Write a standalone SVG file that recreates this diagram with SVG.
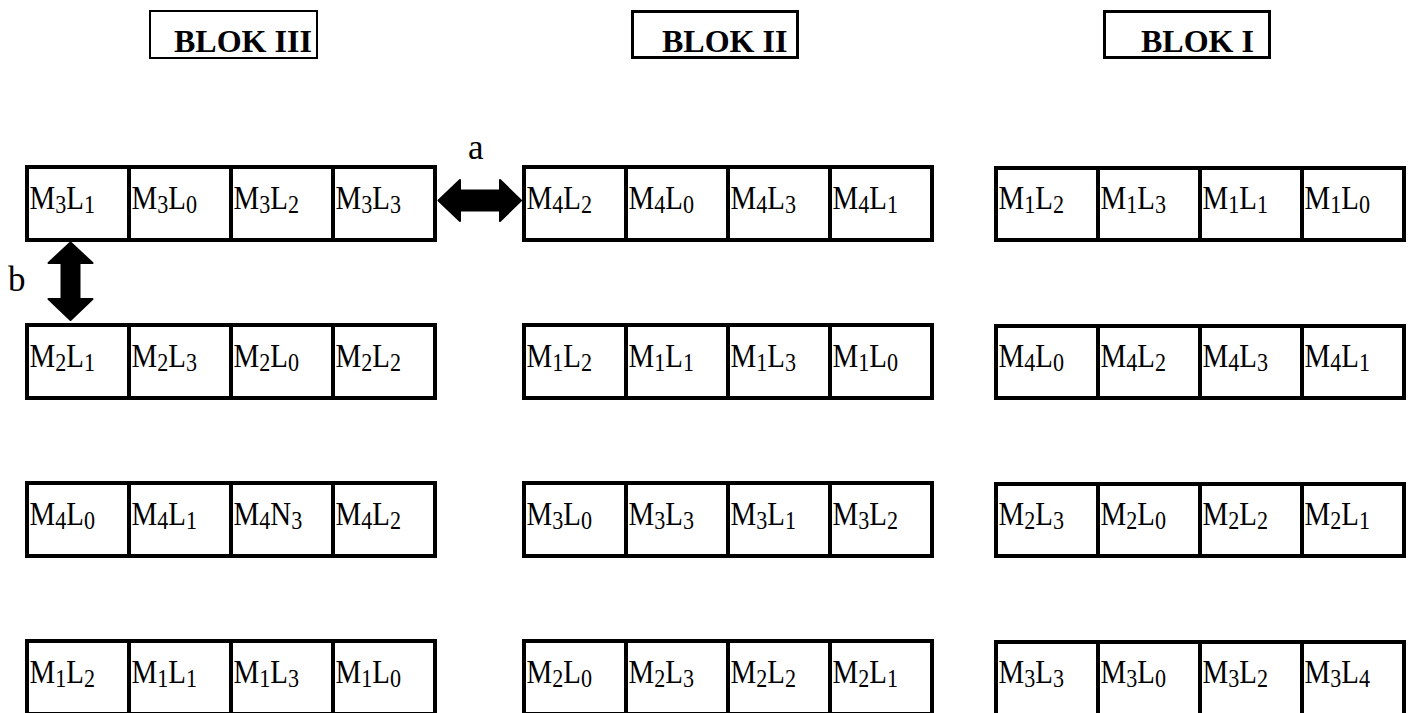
<svg xmlns="http://www.w3.org/2000/svg" width="1415" height="713" viewBox="0 0 1415 713">
  <style>
    .hdr rect { fill: #fff; stroke: #000; }
    .hdr text { font-family: "Liberation Serif", "Times New Roman", serif; font-weight: bold; font-size: 32px; fill: #000; }
    .cell rect { fill: #fff; stroke: #000; stroke-width: 4; }
    .lbl { font-family: "Liberation Serif", "Times New Roman", serif; font-size: 34px; fill: #000; }
    .lbl .s { font-size: 26px; }
    .tag { font-family: "Liberation Serif", "Times New Roman", serif; font-size: 35px; fill: #000; }
    .arrow { fill: #000; stroke: #000; stroke-width: 2; stroke-linejoin: round; }
  </style>

  <!-- block headers -->
  <g id="hdr-blok-3" class="hdr">
    <rect x="150" y="11" width="167" height="47" stroke-width="2"/>
    <text x="174" y="52">BLOK III</text>
  </g>
  <g id="hdr-blok-2" class="hdr">
    <rect x="632.5" y="11.5" width="165" height="46" stroke-width="3"/>
    <text x="662" y="52">BLOK II</text>
  </g>
  <g id="hdr-blok-1" class="hdr">
    <rect x="1104.5" y="11.5" width="165" height="46" stroke-width="3"/>
    <text x="1141" y="52">BLOK I</text>
  </g>

  <!-- BLOK III -->
  <g id="blok3">
    <g id="b3-r1-c1" class="cell"><rect x="27" y="167" width="102" height="73"/><text class="lbl" transform="translate(29.5 209) scale(0.85 1)">M<tspan class="s" dy="4">3</tspan><tspan dy="-4">L</tspan><tspan class="s" dy="4">1</tspan></text></g>
    <g id="b3-r1-c2" class="cell"><rect x="129" y="167" width="102" height="73"/><text class="lbl" transform="translate(131.5 209) scale(0.85 1)">M<tspan class="s" dy="4">3</tspan><tspan dy="-4">L</tspan><tspan class="s" dy="4">0</tspan></text></g>
    <g id="b3-r1-c3" class="cell"><rect x="231" y="167" width="102" height="73"/><text class="lbl" transform="translate(233.5 209) scale(0.85 1)">M<tspan class="s" dy="4">3</tspan><tspan dy="-4">L</tspan><tspan class="s" dy="4">2</tspan></text></g>
    <g id="b3-r1-c4" class="cell"><rect x="333" y="167" width="102" height="73"/><text class="lbl" transform="translate(335.5 209) scale(0.85 1)">M<tspan class="s" dy="4">3</tspan><tspan dy="-4">L</tspan><tspan class="s" dy="4">3</tspan></text></g>

    <g id="b3-r2-c1" class="cell"><rect x="27" y="325" width="102" height="73"/><text class="lbl" transform="translate(29.5 367) scale(0.85 1)">M<tspan class="s" dy="4">2</tspan><tspan dy="-4">L</tspan><tspan class="s" dy="4">1</tspan></text></g>
    <g id="b3-r2-c2" class="cell"><rect x="129" y="325" width="102" height="73"/><text class="lbl" transform="translate(131.5 367) scale(0.85 1)">M<tspan class="s" dy="4">2</tspan><tspan dy="-4">L</tspan><tspan class="s" dy="4">3</tspan></text></g>
    <g id="b3-r2-c3" class="cell"><rect x="231" y="325" width="102" height="73"/><text class="lbl" transform="translate(233.5 367) scale(0.85 1)">M<tspan class="s" dy="4">2</tspan><tspan dy="-4">L</tspan><tspan class="s" dy="4">0</tspan></text></g>
    <g id="b3-r2-c4" class="cell"><rect x="333" y="325" width="102" height="73"/><text class="lbl" transform="translate(335.5 367) scale(0.85 1)">M<tspan class="s" dy="4">2</tspan><tspan dy="-4">L</tspan><tspan class="s" dy="4">2</tspan></text></g>

    <g id="b3-r3-c1" class="cell"><rect x="27" y="483" width="102" height="73"/><text class="lbl" transform="translate(29.5 525) scale(0.85 1)">M<tspan class="s" dy="4">4</tspan><tspan dy="-4">L</tspan><tspan class="s" dy="4">0</tspan></text></g>
    <g id="b3-r3-c2" class="cell"><rect x="129" y="483" width="102" height="73"/><text class="lbl" transform="translate(131.5 525) scale(0.85 1)">M<tspan class="s" dy="4">4</tspan><tspan dy="-4">L</tspan><tspan class="s" dy="4">1</tspan></text></g>
    <g id="b3-r3-c3" class="cell"><rect x="231" y="483" width="102" height="73"/><text class="lbl" transform="translate(233.5 525) scale(0.85 1)">M<tspan class="s" dy="4">4</tspan><tspan dy="-4">N</tspan><tspan class="s" dy="4">3</tspan></text></g>
    <g id="b3-r3-c4" class="cell"><rect x="333" y="483" width="102" height="73"/><text class="lbl" transform="translate(335.5 525) scale(0.85 1)">M<tspan class="s" dy="4">4</tspan><tspan dy="-4">L</tspan><tspan class="s" dy="4">2</tspan></text></g>

    <g id="b3-r4-c1" class="cell"><rect x="27" y="641" width="102" height="73"/><text class="lbl" transform="translate(29.5 683) scale(0.85 1)">M<tspan class="s" dy="4">1</tspan><tspan dy="-4">L</tspan><tspan class="s" dy="4">2</tspan></text></g>
    <g id="b3-r4-c2" class="cell"><rect x="129" y="641" width="102" height="73"/><text class="lbl" transform="translate(131.5 683) scale(0.85 1)">M<tspan class="s" dy="4">1</tspan><tspan dy="-4">L</tspan><tspan class="s" dy="4">1</tspan></text></g>
    <g id="b3-r4-c3" class="cell"><rect x="231" y="641" width="102" height="73"/><text class="lbl" transform="translate(233.5 683) scale(0.85 1)">M<tspan class="s" dy="4">1</tspan><tspan dy="-4">L</tspan><tspan class="s" dy="4">3</tspan></text></g>
    <g id="b3-r4-c4" class="cell"><rect x="333" y="641" width="102" height="73"/><text class="lbl" transform="translate(335.5 683) scale(0.85 1)">M<tspan class="s" dy="4">1</tspan><tspan dy="-4">L</tspan><tspan class="s" dy="4">0</tspan></text></g>
  </g>

  <!-- BLOK II -->
  <g id="blok2">
    <g id="b2-r1-c1" class="cell"><rect x="524" y="167" width="102" height="73"/><text class="lbl" transform="translate(526.5 209) scale(0.85 1)">M<tspan class="s" dy="4">4</tspan><tspan dy="-4">L</tspan><tspan class="s" dy="4">2</tspan></text></g>
    <g id="b2-r1-c2" class="cell"><rect x="626" y="167" width="102" height="73"/><text class="lbl" transform="translate(628.5 209) scale(0.85 1)">M<tspan class="s" dy="4">4</tspan><tspan dy="-4">L</tspan><tspan class="s" dy="4">0</tspan></text></g>
    <g id="b2-r1-c3" class="cell"><rect x="728" y="167" width="102" height="73"/><text class="lbl" transform="translate(730.5 209) scale(0.85 1)">M<tspan class="s" dy="4">4</tspan><tspan dy="-4">L</tspan><tspan class="s" dy="4">3</tspan></text></g>
    <g id="b2-r1-c4" class="cell"><rect x="830" y="167" width="102" height="73"/><text class="lbl" transform="translate(832.5 209) scale(0.85 1)">M<tspan class="s" dy="4">4</tspan><tspan dy="-4">L</tspan><tspan class="s" dy="4">1</tspan></text></g>

    <g id="b2-r2-c1" class="cell"><rect x="524" y="325" width="102" height="73"/><text class="lbl" transform="translate(526.5 367) scale(0.85 1)">M<tspan class="s" dy="4">1</tspan><tspan dy="-4">L</tspan><tspan class="s" dy="4">2</tspan></text></g>
    <g id="b2-r2-c2" class="cell"><rect x="626" y="325" width="102" height="73"/><text class="lbl" transform="translate(628.5 367) scale(0.85 1)">M<tspan class="s" dy="4">1</tspan><tspan dy="-4">L</tspan><tspan class="s" dy="4">1</tspan></text></g>
    <g id="b2-r2-c3" class="cell"><rect x="728" y="325" width="102" height="73"/><text class="lbl" transform="translate(730.5 367) scale(0.85 1)">M<tspan class="s" dy="4">1</tspan><tspan dy="-4">L</tspan><tspan class="s" dy="4">3</tspan></text></g>
    <g id="b2-r2-c4" class="cell"><rect x="830" y="325" width="102" height="73"/><text class="lbl" transform="translate(832.5 367) scale(0.85 1)">M<tspan class="s" dy="4">1</tspan><tspan dy="-4">L</tspan><tspan class="s" dy="4">0</tspan></text></g>

    <g id="b2-r3-c1" class="cell"><rect x="524" y="483" width="102" height="73"/><text class="lbl" transform="translate(526.5 525) scale(0.85 1)">M<tspan class="s" dy="4">3</tspan><tspan dy="-4">L</tspan><tspan class="s" dy="4">0</tspan></text></g>
    <g id="b2-r3-c2" class="cell"><rect x="626" y="483" width="102" height="73"/><text class="lbl" transform="translate(628.5 525) scale(0.85 1)">M<tspan class="s" dy="4">3</tspan><tspan dy="-4">L</tspan><tspan class="s" dy="4">3</tspan></text></g>
    <g id="b2-r3-c3" class="cell"><rect x="728" y="483" width="102" height="73"/><text class="lbl" transform="translate(730.5 525) scale(0.85 1)">M<tspan class="s" dy="4">3</tspan><tspan dy="-4">L</tspan><tspan class="s" dy="4">1</tspan></text></g>
    <g id="b2-r3-c4" class="cell"><rect x="830" y="483" width="102" height="73"/><text class="lbl" transform="translate(832.5 525) scale(0.85 1)">M<tspan class="s" dy="4">3</tspan><tspan dy="-4">L</tspan><tspan class="s" dy="4">2</tspan></text></g>

    <g id="b2-r4-c1" class="cell"><rect x="524" y="641" width="102" height="73"/><text class="lbl" transform="translate(526.5 683) scale(0.85 1)">M<tspan class="s" dy="4">2</tspan><tspan dy="-4">L</tspan><tspan class="s" dy="4">0</tspan></text></g>
    <g id="b2-r4-c2" class="cell"><rect x="626" y="641" width="102" height="73"/><text class="lbl" transform="translate(628.5 683) scale(0.85 1)">M<tspan class="s" dy="4">2</tspan><tspan dy="-4">L</tspan><tspan class="s" dy="4">3</tspan></text></g>
    <g id="b2-r4-c3" class="cell"><rect x="728" y="641" width="102" height="73"/><text class="lbl" transform="translate(730.5 683) scale(0.85 1)">M<tspan class="s" dy="4">2</tspan><tspan dy="-4">L</tspan><tspan class="s" dy="4">2</tspan></text></g>
    <g id="b2-r4-c4" class="cell"><rect x="830" y="641" width="102" height="73"/><text class="lbl" transform="translate(832.5 683) scale(0.85 1)">M<tspan class="s" dy="4">2</tspan><tspan dy="-4">L</tspan><tspan class="s" dy="4">1</tspan></text></g>
  </g>

  <!-- BLOK I -->
  <g id="blok1">
    <g id="b1-r1-c1" class="cell"><rect x="996" y="168" width="102" height="72"/><text class="lbl" transform="translate(998.5 209) scale(0.85 1)">M<tspan class="s" dy="4">1</tspan><tspan dy="-4">L</tspan><tspan class="s" dy="4">2</tspan></text></g>
    <g id="b1-r1-c2" class="cell"><rect x="1098" y="168" width="102" height="72"/><text class="lbl" transform="translate(1100.5 209) scale(0.85 1)">M<tspan class="s" dy="4">1</tspan><tspan dy="-4">L</tspan><tspan class="s" dy="4">3</tspan></text></g>
    <g id="b1-r1-c3" class="cell"><rect x="1200" y="168" width="102" height="72"/><text class="lbl" transform="translate(1202.5 209) scale(0.85 1)">M<tspan class="s" dy="4">1</tspan><tspan dy="-4">L</tspan><tspan class="s" dy="4">1</tspan></text></g>
    <g id="b1-r1-c4" class="cell"><rect x="1302" y="168" width="102" height="72"/><text class="lbl" transform="translate(1304.5 209) scale(0.85 1)">M<tspan class="s" dy="4">1</tspan><tspan dy="-4">L</tspan><tspan class="s" dy="4">0</tspan></text></g>

    <g id="b1-r2-c1" class="cell"><rect x="996" y="326" width="102" height="72"/><text class="lbl" transform="translate(998.5 367) scale(0.85 1)">M<tspan class="s" dy="4">4</tspan><tspan dy="-4">L</tspan><tspan class="s" dy="4">0</tspan></text></g>
    <g id="b1-r2-c2" class="cell"><rect x="1098" y="326" width="102" height="72"/><text class="lbl" transform="translate(1100.5 367) scale(0.85 1)">M<tspan class="s" dy="4">4</tspan><tspan dy="-4">L</tspan><tspan class="s" dy="4">2</tspan></text></g>
    <g id="b1-r2-c3" class="cell"><rect x="1200" y="326" width="102" height="72"/><text class="lbl" transform="translate(1202.5 367) scale(0.85 1)">M<tspan class="s" dy="4">4</tspan><tspan dy="-4">L</tspan><tspan class="s" dy="4">3</tspan></text></g>
    <g id="b1-r2-c4" class="cell"><rect x="1302" y="326" width="102" height="72"/><text class="lbl" transform="translate(1304.5 367) scale(0.85 1)">M<tspan class="s" dy="4">4</tspan><tspan dy="-4">L</tspan><tspan class="s" dy="4">1</tspan></text></g>

    <g id="b1-r3-c1" class="cell"><rect x="996" y="484" width="102" height="72"/><text class="lbl" transform="translate(998.5 525) scale(0.85 1)">M<tspan class="s" dy="4">2</tspan><tspan dy="-4">L</tspan><tspan class="s" dy="4">3</tspan></text></g>
    <g id="b1-r3-c2" class="cell"><rect x="1098" y="484" width="102" height="72"/><text class="lbl" transform="translate(1100.5 525) scale(0.85 1)">M<tspan class="s" dy="4">2</tspan><tspan dy="-4">L</tspan><tspan class="s" dy="4">0</tspan></text></g>
    <g id="b1-r3-c3" class="cell"><rect x="1200" y="484" width="102" height="72"/><text class="lbl" transform="translate(1202.5 525) scale(0.85 1)">M<tspan class="s" dy="4">2</tspan><tspan dy="-4">L</tspan><tspan class="s" dy="4">2</tspan></text></g>
    <g id="b1-r3-c4" class="cell"><rect x="1302" y="484" width="102" height="72"/><text class="lbl" transform="translate(1304.5 525) scale(0.85 1)">M<tspan class="s" dy="4">2</tspan><tspan dy="-4">L</tspan><tspan class="s" dy="4">1</tspan></text></g>

    <g id="b1-r4-c1" class="cell"><rect x="996" y="642" width="102" height="73"/><text class="lbl" transform="translate(998.5 683) scale(0.85 1)">M<tspan class="s" dy="4">3</tspan><tspan dy="-4">L</tspan><tspan class="s" dy="4">3</tspan></text></g>
    <g id="b1-r4-c2" class="cell"><rect x="1098" y="642" width="102" height="73"/><text class="lbl" transform="translate(1100.5 683) scale(0.85 1)">M<tspan class="s" dy="4">3</tspan><tspan dy="-4">L</tspan><tspan class="s" dy="4">0</tspan></text></g>
    <g id="b1-r4-c3" class="cell"><rect x="1200" y="642" width="102" height="73"/><text class="lbl" transform="translate(1202.5 683) scale(0.85 1)">M<tspan class="s" dy="4">3</tspan><tspan dy="-4">L</tspan><tspan class="s" dy="4">2</tspan></text></g>
    <g id="b1-r4-c4" class="cell"><rect x="1302" y="642" width="102" height="73"/><text class="lbl" transform="translate(1304.5 683) scale(0.85 1)">M<tspan class="s" dy="4">3</tspan><tspan dy="-4">L</tspan><tspan class="s" dy="4">4</tspan></text></g>
  </g>

  <!-- swap arrows between cells -->
  <g id="connectors">
    <g id="swap-a">
      <polygon class="arrow" points="438.5,200.5 460,180 460,190.5 500,190.5 500,180 521,200.5 500,221 500,210.5 460,210.5 460,221"/>
      <text class="tag" x="468" y="159">a</text>
    </g>
    <g id="swap-b">
      <polygon class="arrow" points="70.5,242.5 92.5,263 79.5,263 79.5,299 92.5,299 70.5,320 48.5,299 61.5,299 61.5,263 48.5,263"/>
      <text class="tag" x="8" y="291">b</text>
    </g>
  </g>
</svg>
